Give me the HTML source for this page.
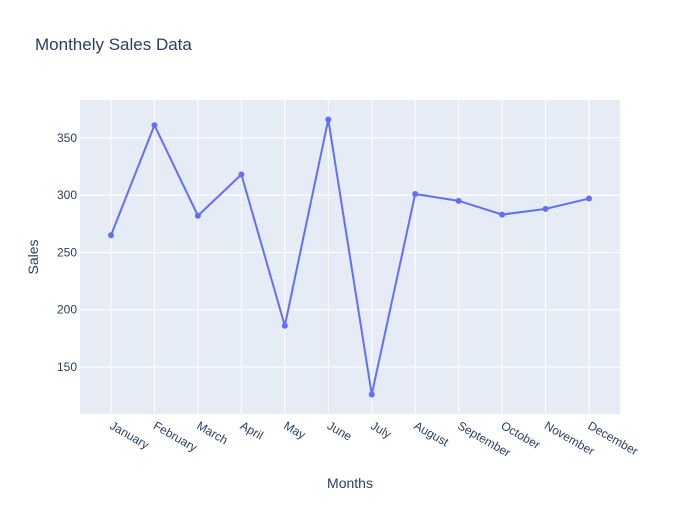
<!DOCTYPE html>
<html><head><meta charset="utf-8"><style>
body{margin:0;background:#fff;font-family:"Liberation Sans",sans-serif}
svg text{font-family:"Liberation Sans",sans-serif}
</style></head><body>
<svg id="chart" width="700" height="500">
<rect width="700" height="500" fill="#fff"/>
<text x="35" y="50" font-size="17" fill="#2a3f5f">Monthely Sales Data</text>
<rect x="80" y="100" width="540" height="314" fill="#e5ecf6"/>
<g id="grid"></g><g id="xt"></g><g id="yt"></g><g id="series"></g>
<text x="350" y="488" font-size="14" fill="#2a3f5f" text-anchor="middle">Months</text>
<text transform="translate(38,257) rotate(-90)" font-size="14" fill="#2a3f5f" text-anchor="middle">Sales</text>
</svg>
<script>
const months=["January","February","March","April","May","June","July","August","September","October","November","December"];
const sales=[265,361,282,318,186,366,126,301,295,283,288,297];
const yTicks=[150,200,250,300,350];
const NS="http://www.w3.org/2000/svg";
const L=80,R=620,T=100,B=414;
const xMin=-0.713,xMax=11.713,yMin=109,yMax=383;
const xs=i=>L+(i-xMin)/(xMax-xMin)*(R-L);
const ys=v=>B-(v-yMin)/(yMax-yMin)*(B-T);
function mk(tag,attrs,parent){const e=document.createElementNS(NS,tag);for(const k in attrs)e.setAttribute(k,attrs[k]);document.getElementById(parent).appendChild(e);return e;}
months.forEach((m,i)=>{
 const x=xs(i);
 const g=mk("line",{x1:x,x2:x,y1:T,y2:B,stroke:"#fff","stroke-width":1},"grid");
 
 
 const t=mk("text",{x:0,y:0,"font-size":12,fill:"#2a3f5f",transform:`translate(${x-2},${B+14}) rotate(30)`},"xt");
 t.textContent=m;
 
 
});
yTicks.forEach(v=>{
 const y=ys(v);
 const g=mk("line",{x1:L,x2:R,y1:y,y2:y,stroke:"#fff","stroke-width":1},"grid");
 
 
 const t=mk("text",{x:L-3,y:y+4,"font-size":12,fill:"#2a3f5f","text-anchor":"end"},"yt");
 t.textContent=v;
 
 
});
const pts=sales.map((v,i)=>xs(i)+","+ys(v)).join(" ");
const pl=mk("polyline",{points:pts,fill:"none",stroke:"#636efa","stroke-width":2},"series");


sales.forEach((v,i)=>{
 const c=mk("circle",{cx:xs(i),cy:ys(v),r:3,fill:"#636efa"},"series");
 
 
});
</script>
</body></html>
